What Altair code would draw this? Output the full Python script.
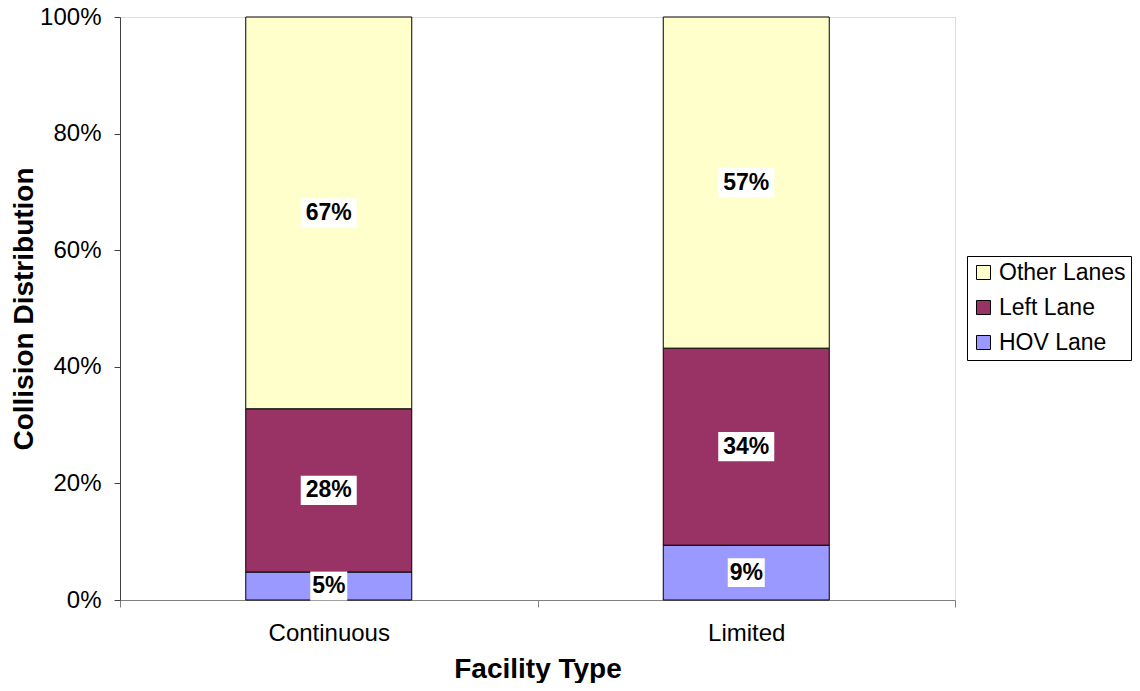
import altair as alt
import pandas as pd

facility = ["Continuous", "Limited"]
lanes = ["HOV Lane", "Left Lane", "Other Lanes"]
hov = [0.048, 0.094]
left = [0.280, 0.338]
other = [0.672, 0.568]
legend_order = ["Other Lanes", "Left Lane", "HOV Lane"]
colors = ["#FFFFCC", "#993366", "#9999FF"]
y_ticks = [0, 0.2, 0.4, 0.6, 0.8, 1.0]

rows = []
for i, f in enumerate(facility):
    for k, (lane, vals) in enumerate(zip(lanes, [hov, left, other])):
        rows.append({"facility": f, "lane": lane, "value": vals[i], "order": k})
df = pd.DataFrame(rows)

FONT = "Liberation Sans"

base = alt.Chart(df).transform_stack(
    stack="value", as_=["y0", "y1"], groupby=["facility"],
    sort=[alt.SortField("order", order="ascending")]
).transform_calculate(
    mid="(datum.y0 + datum.y1) / 2",
    label="format(datum.value, '.0%')"
)

xenc = alt.X(
    "facility:N",
    scale=alt.Scale(domain=facility, paddingInner=0, paddingOuter=0),
    axis=alt.Axis(
        title="Facility Type", tickBand="extent", tickSize=7, labelPadding=14,
        labelFontSize=24, labelFont=FONT, labelColor="black", labelAngle=0,
        domainColor="#808080", tickColor="#808080",
        titleFontSize=28, titleFont=FONT, titleFontWeight="bold", titleColor="black",
        titlePadding=10,
    ),
)

bars = base.mark_bar(size=166, stroke="black", strokeWidth=1).encode(
    x=xenc,
    y=alt.Y(
        "y0:Q",
        scale=alt.Scale(domain=[0, 1], nice=False),
        axis=alt.Axis(
            title="Collision Distribution", format=".0%", values=y_ticks, grid=False,
            tickSize=6, labelPadding=13, labelFontSize=24, labelFont=FONT,
            labelColor="black", domainColor="#404040", tickColor="#404040",
            titleFontSize=28, titleFont=FONT, titleFontWeight="bold", titleColor="black",
            titlePadding=1,
        ),
    ),
    y2="y1:Q",
    color=alt.Color(
        "lane:N",
        scale=alt.Scale(domain=legend_order, range=colors),
        legend=alt.Legend(
            title=None, orient="none", legendX=847, legendY=239,
            strokeColor="black", fillColor="white", padding=5,
            symbolType="square", symbolSize=196, symbolStrokeColor="black",
            symbolStrokeWidth=1, symbolOpacity=1,
            labelFontSize=23, labelFont=FONT, labelColor="black",
            rowPadding=11, labelOffset=4,
        ),
    ),
)

box2 = base.transform_filter("length(datum.label) == 3").mark_point(
    shape="M-1,-0.52H1V0.52H-1Z", size=56 * 56, filled=True, fill="white",
    opacity=1, strokeWidth=0,
).encode(x=alt.X("facility:N"), y=alt.Y("mid:Q"))

box1 = base.transform_filter("length(datum.label) == 2").mark_point(
    shape="M-1,-0.78H1V0.78H-1Z", size=37 * 37, filled=True, fill="white",
    opacity=1, strokeWidth=0,
).encode(x=alt.X("facility:N"), y=alt.Y("mid:Q"))

text = base.mark_text(
    font=FONT, fontSize=23, fontWeight="bold", color="black", baseline="middle",
).encode(x=alt.X("facility:N"), y=alt.Y("mid:Q"), text="label:N")

chart = alt.layer(bars, box2, box1, text).properties(
    width=835, height=583,
    autosize=alt.AutoSizeParams(type="none"),
    padding={"left": 112, "top": 9, "right": 177, "bottom": 83},
).configure_view(
    stroke="#808080", strokeWidth=1
).configure(background="white")

chart.save("out.html", embed_options={"renderer": "svg", "actions": False})
